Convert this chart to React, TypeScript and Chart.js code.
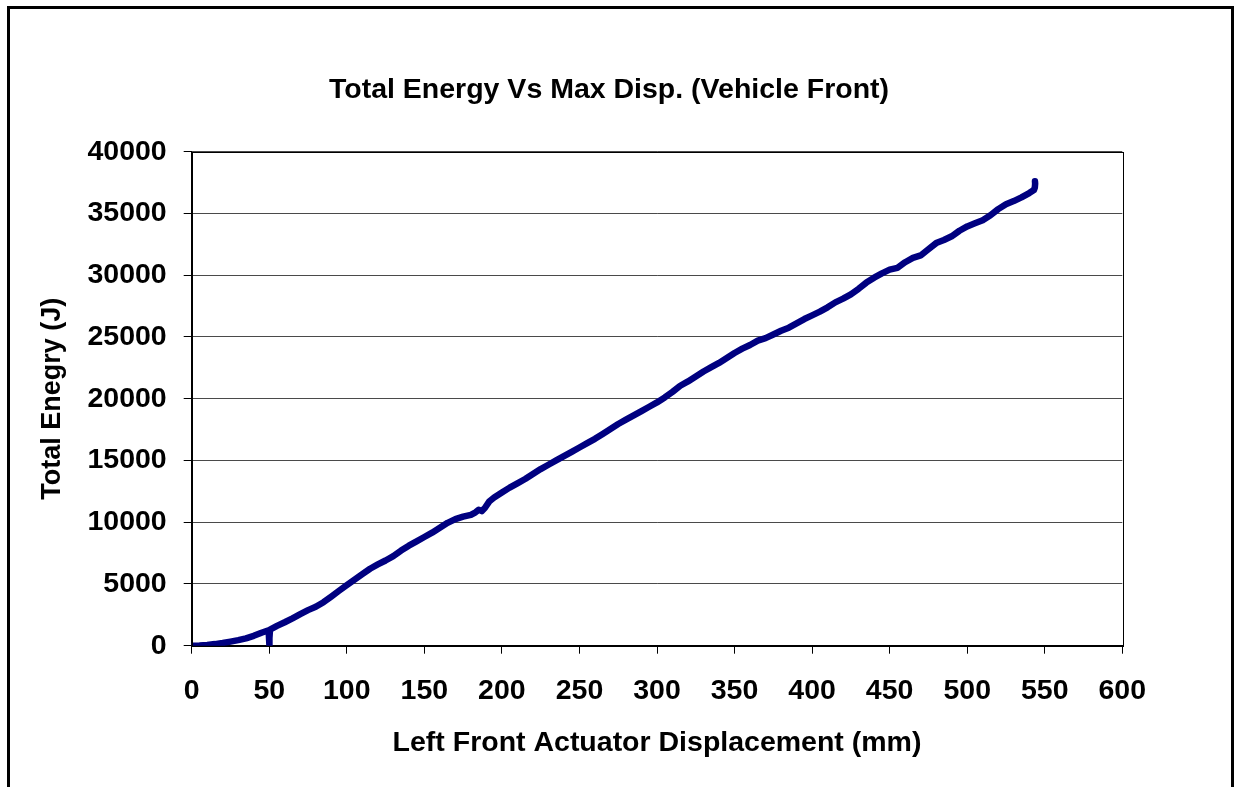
import React, { useEffect, useRef } from 'react';
import { Chart, registerables } from 'chart.js';

Chart.register(...registerables);

const CHART_TITLE = 'Total Energy Vs Max Disp. (Vehicle Front)';
const X_TITLE = 'Left Front Actuator Displacement (mm)';
const Y_TITLE = 'Total Enegry (J)';

const displacement = [
  0, 5, 10, 15, 20, 25, 30, 35, 40, 45, 49.6, 49.9, 50.05, 50.2, 50.5, 55, 60, 65, 70, 75,
  80, 85, 90, 95, 100, 105, 110, 115, 120, 125, 130, 135, 140, 145, 150, 155, 160, 165, 170, 175,
  180, 183, 185, 187, 189, 192, 195, 200, 205, 210, 215, 220, 225, 230, 235, 240, 245, 250, 255, 260,
  265, 270, 275, 280, 285, 290, 295, 300, 305, 310, 315, 320, 325, 330, 335, 340, 345, 350, 355, 360,
  365, 370, 375, 380, 385, 390, 395, 400, 405, 410, 415, 420, 425, 430, 435, 440, 445, 450, 455, 460,
  465, 470, 475, 480, 485, 490, 495, 500, 505, 510, 515, 520, 525, 530, 535, 540, 543, 543.6, 543.8, 543.7,
];

const energy = [
  0, 20, 60, 130, 220, 330, 450, 600, 800, 1050, 1250, 500, 0, 600, 1300, 1600, 1900, 2220, 2560, 2880,
  3150, 3520, 3980, 4450, 4900, 5350, 5800, 6230, 6580, 6900, 7250, 7700, 8100, 8450, 8800, 9150, 9550, 9950, 10250, 10450,
  10600, 10800, 11000, 10900, 11150, 11700, 12000, 12400, 12800, 13150, 13500, 13900, 14300, 14650, 15000, 15350, 15700, 16050, 16400, 16750,
  17150, 17550, 17950, 18300, 18650, 19000, 19350, 19700, 20100, 20550, 21050, 21400, 21800, 22200, 22550, 22900, 23300, 23700, 24050, 24350,
  24700, 24900, 25200, 25500, 25750, 26100, 26450, 26750, 27050, 27400, 27800, 28100, 28450, 28900, 29400, 29800, 30150, 30450, 30600, 31050,
  31400, 31600, 32100, 32600, 32850, 33150, 33600, 33950, 34200, 34450, 34850, 35350, 35750, 36000, 36300, 36650, 36900, 37100, 37400, 37600,
];

const X_MIN = 0;
const X_MAX = 600;
const X_STEP = 50;
const Y_MIN = 0;
const Y_MAX = 40000;
const Y_STEP = 5000;

const FONT_FAMILY = '"Liberation Sans", Arial, Helvetica, sans-serif';

const plotBorder = {
  id: 'plotBorder',
  afterDraw(chart: any) {
    const { ctx, chartArea } = chart;
    ctx.save();
    ctx.strokeStyle = '#000000';
    ctx.lineWidth = 1;
    ctx.strokeRect(
      Math.round(chartArea.left) + 0.5,
      Math.round(chartArea.top) + 0.5,
      Math.round(chartArea.right - chartArea.left),
      Math.round(chartArea.bottom - chartArea.top)
    );
    ctx.restore();
  },
};

export default function App() {
  const canvasRef = useRef<HTMLCanvasElement | null>(null);

  useEffect(() => {
    if (!canvasRef.current) return;
    const points = displacement.map((x, i) => ({ x, y: energy[i] }));
    const chart = new Chart(canvasRef.current, {
      type: 'scatter',
      data: {
        datasets: [
          {
            label: 'Total Energy',
            data: points,
            showLine: true,
            borderColor: '#000080',
            backgroundColor: '#000080',
            borderWidth: 6.5,
            borderCapStyle: 'round',
            borderJoinStyle: 'round',
            pointRadius: 0,
            tension: 0,
            xAxisID: 'x',
            yAxisID: 'y',
          },
        ],
      },
      options: {
        responsive: false,
        animation: false,
        layout: { padding: 0 },
        plugins: {
          legend: { display: false },
          tooltip: { enabled: false },
          title: {
            display: true,
            text: CHART_TITLE,
            color: '#000000',
            font: { family: FONT_FAMILY, size: 28.5, weight: 'bold', lineHeight: 1.2 },
            padding: { top: 72.9, bottom: 44.6 },
          },
        },
        scales: {
          x: {
            type: 'linear',
            min: X_MIN,
            max: X_MAX,
            afterFit(scale: any) {
              scale.height = 141.3;
            },
            ticks: {
              stepSize: X_STEP,
              color: '#000000',
              padding: 20.5,
              maxRotation: 0,
              font: { family: FONT_FAMILY, size: 28.5, weight: 'bold' },
              callback: (v: any) => String(v),
            },
            grid: {
              drawOnChartArea: false,
              drawTicks: true,
              tickLength: 8,
              color: '#000000',
            },
            border: { color: '#000000', width: 1 },
            title: {
              display: true,
              text: X_TITLE,
              color: '#000000',
              font: { family: FONT_FAMILY, size: 28.5, weight: 'bold', lineHeight: 1.2 },
              padding: { top: 0, bottom: 26.6 },
            },
          },
          y: {
            type: 'linear',
            position: 'left',
            min: Y_MIN,
            max: Y_MAX,
            afterFit(scale: any) {
              scale.width = 191.7;
            },
            ticks: {
              stepSize: Y_STEP,
              color: '#000000',
              padding: 17,
              font: { family: FONT_FAMILY, size: 28.5, weight: 'bold' },
              callback: (v: any) => String(v),
            },
            grid: {
              color: '#4a4a4a',
              tickColor: '#000000',
              drawTicks: true,
              tickLength: 8,
              lineWidth: 1,
            },
            border: { color: '#000000', width: 1 },
            title: {
              display: true,
              text: Y_TITLE,
              color: '#000000',
              font: { family: FONT_FAMILY, size: 27, weight: 'bold', lineHeight: 1.2 },
              padding: { top: 36.3, bottom: 0 },
            },
          },
          yRight: {
            type: 'linear',
            position: 'right',
            min: 0,
            max: 1,
            afterFit(scale: any) {
              scale.width = 95.7;
            },
            ticks: { display: false },
            grid: { display: false, drawTicks: false },
            border: { display: false },
            title: { display: false },
          },
        },
      },
      plugins: [plotBorder],
    });
    return () => {
      chart.destroy();
    };
  }, []);

  return (
    <div>
      <canvas
        ref={canvasRef}
        width={1218}
        height={787}
        style={{ position: 'fixed', left: 0, top: 0, width: 1218, height: 787, background: '#ffffff' }}
      />
      <div
        style={{
          position: 'fixed',
          left: 7,
          top: 6,
          width: 1227,
          height: 900,
          border: '3px solid #000000',
          boxSizing: 'border-box',
          pointerEvents: 'none',
        }}
      />
    </div>
  );
}
